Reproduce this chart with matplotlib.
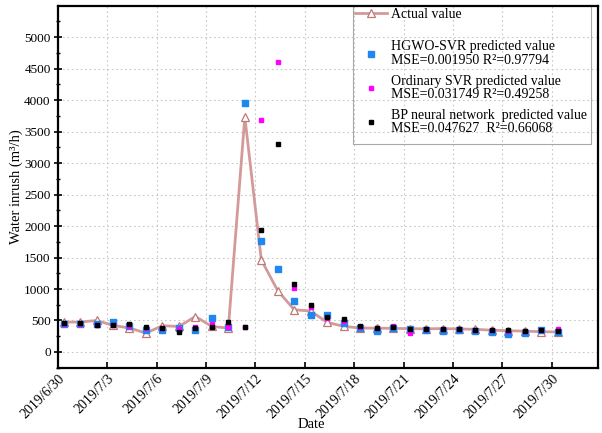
import matplotlib
matplotlib.use("Agg")
import matplotlib.pyplot as plt
from matplotlib.patches import Rectangle
import numpy as np

# ---- data ----
day_offset = 0.36
tick_labels = ["2019/6/30", "2019/7/3", "2019/7/6", "2019/7/9", "2019/7/12", "2019/7/15",
               "2019/7/18", "2019/7/21", "2019/7/24", "2019/7/27", "2019/7/30"]
tick_days = [0, 3, 6, 9, 12, 15, 18, 21, 24, 27, 30]

actual = [475, 475, 500, 422, 380, 300, 417, 405, 563, 405, 380, 3735, 1463, 972, 671, 650,
          470, 407, 380, 378, 375, 370, 368, 372, 365, 360, 345, 338, 330, 322, 318]
hgwo = [444, 444, 440, 475, 420, 354, 354, 380, 354, 540, 390, 3957, 1770, 1321, 814, 592,
        581, 460, 375, 338, 375, 360, 355, 328, 355, 340, 325, 290, 300, 354, 320]
svr = [440, 444, 433, 433, 420, 380, 380, 363, 390, 444, 400, 390, 3682, 4605, 1014, 708,
       540, 497, 400, 380, 417, 301, 365, 360, 360, 350, 350, 340, 330, 345, 364]
bp = [460, 460, 433, 433, 444, 396, 380, 316, 380, 396, 475, 391, 1933, 3296, 1078, 750,
      555, 528, 407, 380, 391, 364, 370, 364, 364, 354, 354, 343, 328, 343, 328]

labels = ["Actual value",
          "HGWO-SVR predicted value\nMSE=0.001950 R\u00b2=0.97794",
          "Ordinary SVR predicted value\nMSE=0.031749 R\u00b2=0.49258",
          "BP neural network  predicted value\nMSE=0.047627  R\u00b2=0.66068"]

plt.rcParams['font.family'] = ['Liberation Serif', 'DejaVu Serif']

fig = plt.figure(figsize=(6.02, 4.33), dpi=100)
ax = fig.add_axes([0.0958, 0.1508, 0.8976, 0.836])

x = np.arange(len(actual)) + day_offset

h0, = ax.plot(x, actual, color='#d49a9a', lw=2.0, marker='^', ms=6, mfc='white',
              mec='#c07878', mew=0.9, zorder=3)
h1, = ax.plot(x, hgwo, ls='none', marker='s', ms=4.0, color='#1e88f0', zorder=4)
h2, = ax.plot(x, svr, ls='none', marker='s', ms=2.4, color='#ff00ff', zorder=5)
h3, = ax.plot(x, bp, ls='none', marker='s', ms=2.4, color='black', zorder=6)

ax.set_xlim(0, 32.8)
ax.set_ylim(-250, 5500)
ax.set_xticks(tick_days)
ax.set_xticklabels(tick_labels, rotation=45, ha='right', rotation_mode='anchor', fontsize=10)
ax.set_yticks(np.arange(0, 5001, 500))
ax.set_yticks(np.arange(-250, 5500, 250), minor=True)
ax.tick_params(axis='y', which='major', direction='inout', length=6, width=1.2, labelsize=9.5, pad=2)
ax.tick_params(axis='y', which='minor', direction='inout', length=3, width=1.0)
ax.tick_params(axis='x', which='major', direction='in', length=4, width=1.2, pad=3)
for s in ax.spines.values():
    s.set_linewidth(1.6)
    s.set_zorder(10)

ax.grid(True, which='major', ls=(0, (1.5, 2.5)), color='#c8c8c8', lw=0.8)
ax.set_axisbelow(True)

ax.set_xlabel("Date", fontsize=10.5)
ax.xaxis.set_label_coords(0.47, -0.138)
ax.set_ylabel("Water inrush (m\u00b3/h)", fontsize=10.5, labelpad=1)

common = dict(fontsize=10, frameon=False, handlelength=2.3, handletextpad=0.3,
              borderpad=0, borderaxespad=0, loc='center left')
leg1 = ax.legend([h0], [labels[0]], bbox_to_anchor=(0.550, 0.975), **common)
ax.add_artist(leg1)
leg2 = ax.legend([h1, h2, h3], labels[1:], bbox_to_anchor=(0.550, 0.773),
                 labelspacing=0.55, **common)
for t in leg2.get_texts():
    t.set_linespacing(1.05)

frame = Rectangle((0.547, 0.618), 0.987 - 0.547, 0.45, transform=ax.transAxes,
                  fill=False, edgecolor='#a8a8a8', lw=0.8, clip_on=True, zorder=7)
ax.add_patch(frame)

fig.savefig("out.png", dpi=100)
